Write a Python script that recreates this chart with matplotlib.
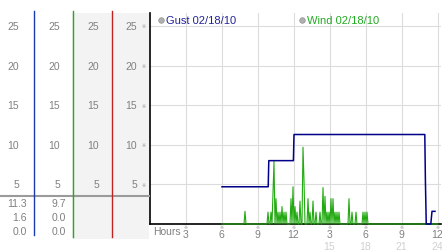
import numpy as np
import matplotlib
matplotlib.use("Agg")
import matplotlib.pyplot as plt
from matplotlib.lines import Line2D
from matplotlib.patches import Rectangle
from matplotlib.transforms import blended_transform_factory

plt.rcParams['font.family'] = ['Liberation Sans', 'DejaVu Sans']

# gust readings (hour of day, mph)
gust_hours = [6.0, 9.85, 9.9, 11.95, 12.0, 22.9, 22.95, 23.02, 23.4, 23.5, 23.75]
gust_speed = [4.7, 4.7, 8.0, 8.0, 11.3, 11.3, 5.5, 0.0, 0.0, 1.6, 1.6]

# wind readings every 5 minutes, one row per hour starting 6:00
wind_rows = [
    [0] * 12,                                            # 6
    [0, 0, 0, 0, 0, 0, 0, 0, 0, 0, 0, 1.6],              # 7
    [0] * 12,                                            # 8
    [0, 0, 0, 0, 0, 0, 0, 0, 0, 0, 1.5, 0],              # 9
    [0, 1.5, 0, 4.0, 7.9, 0, 3.2, 0, 1.5, 0, 1.5, 0],    # 10
    [2.2, 0, 1.5, 0, 1.5, 0, 0, 0, 0, 3.2, 0, 4.7],      # 11
    [0, 2.2, 0, 1.5, 0, 0, 2.9, 0, 0, 9.7, 5.5, 0],      # 12
    [0, 0, 3.2, 0, 1.5, 0, 0, 2.9, 0, 0, 1.5, 0],        # 13
    [0, 0, 1.5, 0, 0, 4.6, 0, 3.5, 0, 1.5, 0, 1.5],      # 14
    [0, 3.2, 0, 3.2, 0, 1.5, 0, 1.5, 0, 1.5, 0, 0],      # 15
    [0, 0, 0, 0, 0, 0, 0, 3.2, 0, 0, 1.5, 0],            # 16
    [0, 0, 1.5, 0, 0, 0, 0, 0, 0, 1.5, 0, 1.5],          # 17
    [0, 1.5, 0, 0, 0, 0, 0, 0, 0, 0, 0, 0],              # 18
    [0] * 12, [0] * 12, [0] * 12, [0] * 12, [0] * 12,    # 19-23
]
wind_speed = [v for row in wind_rows for v in row] + [0]
wind_hours = 6 + np.arange(len(wind_speed)) / 12.0

x_ticks = [3, 6, 9, 12, 15, 18, 21, 24]
x_labels = ['3', '6', '9', '12', '3', '6', '9', '12']
x_labels2 = ['15', '18', '21', '24']
y_ticks = [5, 10, 15, 20, 25]
y_labels = ['5', '10', '15', '20', '25']

gust_stats = ['11.3', '1.6', '0.0']
wind_stats = ['9.7', '0.0', '0.0']

W, H = 442, 253
def fx(x): return x / W
def fy(y): return 1 - y / H

fig = plt.figure(figsize=(W / 100, H / 100), dpi=100)
fig.patch.set_facecolor('white')

# left side panel
fig.add_artist(Rectangle((fx(72), fy(240)), fx(149) - fx(72), fy(14) - fy(240),
                         transform=fig.transFigure, color='#f3f3f3', lw=0, zorder=0))
fig.add_artist(Line2D([fx(0), fx(149)], [fy(197), fy(197)], transform=fig.transFigure,
                      color='#9a9a9a', lw=1.5, zorder=1))
for xp, c, yb in [(33.5, '#1a3cb0', 236), (72.5, '#22aa22', 238), (111.5, '#c02222', 238)]:
    fig.add_artist(Line2D([fx(xp), fx(xp)], [fy(12), fy(yb)], transform=fig.transFigure,
                          color=c, lw=1.0, zorder=2))

ax = fig.add_axes([fx(150), fy(225), fx(441) - fx(150), fy(13.5) - fy(225)])
ax.set_xlim(0, 24.25)
ax.set_ylim(0, (225 - 13.5) / 7.92)

ax.plot(wind_hours, wind_speed, color='#22aa11', lw=0.8, zorder=3, clip_on=False)
ax.plot(gust_hours, gust_speed, color='#000088', lw=1.1, zorder=4, clip_on=False)

ax.set_xticks(x_ticks)
ax.set_xticklabels([])
ax.set_yticks(y_ticks)
ax.set_yticklabels([])
ax.tick_params(length=0)
ax.grid(True, color='#dcdcdc', lw=0.8)
ax.set_axisbelow(True)
for s in ['top', 'right']:
    ax.spines[s].set_visible(False)
for s in ['left', 'bottom']:
    ax.spines[s].set_color('black')
    ax.spines[s].set_linewidth(1.2)

# y labels in the four side columns
ty = blended_transform_factory(fig.transFigure, ax.transData)
for v, lab in zip(y_ticks, y_labels):
    for xr in [19, 60, 99, 137]:
        fig.text(fx(xr), v, lab, transform=ty, ha='right', va='center',
                 fontsize=7.5, color='#808080')
    fig.text(fx(144), v, '\u203b', transform=ty, ha='center', va='center',
             fontsize=3.5, color='#999999', family=['DejaVu Sans'])

# x labels
tx = blended_transform_factory(ax.transData, fig.transFigure)
for h, lab in zip(x_ticks, x_labels):
    fig.text(h, fy(228), '\u203b', transform=tx, ha='center', va='center',
             fontsize=3.5, color='#999999', family=['DejaVu Sans'])
    fig.text(h - 0.05, fy(235), lab, transform=tx, ha='center', va='center',
             fontsize=7.5, color='#808080')
for h, lab in zip(x_ticks[4:], x_labels2):
    fig.text(h - 0.05, fy(247.5), lab, transform=tx, ha='center', va='center',
             fontsize=7.5, color='#d0d0d0')
fig.text(fx(153), fy(232), 'Hours', ha='left', va='center', fontsize=7.5, color='#808080')

# min/max/current values
for i, yp in enumerate([204.5, 218.5, 232]):
    fig.text(fx(27), fy(yp), gust_stats[i], ha='right', va='center', fontsize=7.5, color='#808080')
    fig.text(fx(66), fy(yp), wind_stats[i], ha='right', va='center', fontsize=7.5, color='#808080')

# legend
for xc, lab, c in [(160.7, 'Gust 02/18/10', '#22229a'), (301.7, 'Wind 02/18/10', '#22aa22')]:
    fig.add_artist(Line2D([fx(xc)], [fy(20.7)], transform=fig.transFigure, marker='o',
                          markersize=4, markerfacecolor='#b0b0b0', markeredgecolor='#909090',
                          markeredgewidth=0.5, lw=0))
    fig.text(fx(xc + 5.3), fy(20.7), lab, ha='left', va='center', fontsize=8, color=c)

fig.savefig('out.png', dpi=100)
